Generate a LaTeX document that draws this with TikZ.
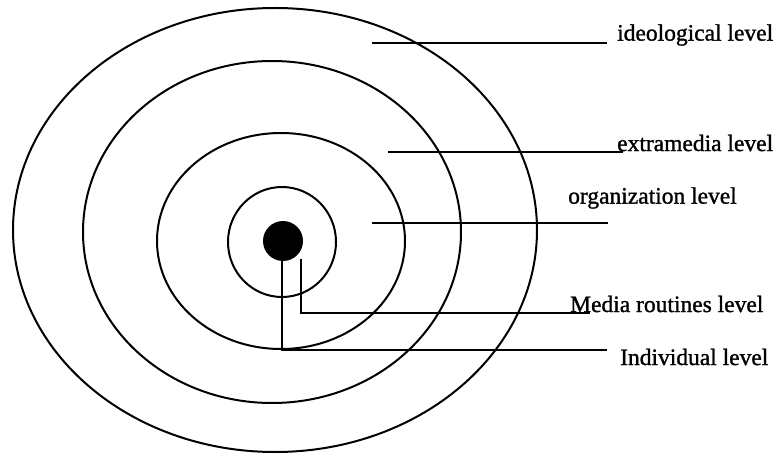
\documentclass[tikz,border=0pt]{standalone}
\usepackage{fontspec}
\setmainfont{Liberation Serif}
\newfontfamily\lblfont[FakeBold=1.2]{Liberation Serif}
\begin{document}
\begin{tikzpicture}[x=1pt,y=-1pt,
  ring/.style={draw=black, line width=2pt},
  lead/.style={draw=black, line width=2pt},
  lbl/.style={anchor=west, inner sep=0pt, font=\lblfont\fontsize{23.5}{23.5}\selectfont}]
\useasboundingbox (0,0) rectangle (779,457);
% concentric levels
\draw[ring] (275,230) ellipse [x radius=262pt, y radius=222pt];
\draw[ring] (272,232) ellipse [x radius=189pt, y radius=171pt];
\draw[ring] (281,241) ellipse [x radius=124pt, y radius=108pt];
\draw[ring] (282,242) ellipse [x radius=54pt, y radius=55pt];
\node[circle, fill=black, minimum size=40pt, inner sep=0pt] (dot) at (283,241) {};
% labels
\node[lbl] (ideo) at (617,35) {ideological level};
\node[lbl] (extra) at (617,143) {extramedia level};
\node[lbl] (org) at (568,198) {organization level};
\node[lbl] (media) at (570,304) {Media routines level};
\node[lbl] (indiv) at (620,357) {Individual level};
% connector end points
\coordinate (ideoS) at (372,43);   \coordinate (ideoE) at (607,43);
\coordinate (extraS) at (388,152); \coordinate (extraE) at (623,152);
\coordinate (orgS) at (372,223);   \coordinate (orgE) at (608,223);
\coordinate (mediaS) at (301,259); \coordinate (mediaC) at (301,313); \coordinate (mediaE) at (590,313);
\coordinate (indivS) at (282,261); \coordinate (indivC) at (282,350); \coordinate (indivE) at (607,350);
% connectors
\draw[lead] (ideoS) -- (ideoE);
\draw[lead] (extraS) -- (extraE);
\draw[lead] (orgS) -- (orgE);
\draw[lead] (mediaS) -- (mediaC) -- (mediaE);
\draw[lead] (indivS) -- (indivC) -- (indivE);
\end{tikzpicture}
\end{document}
